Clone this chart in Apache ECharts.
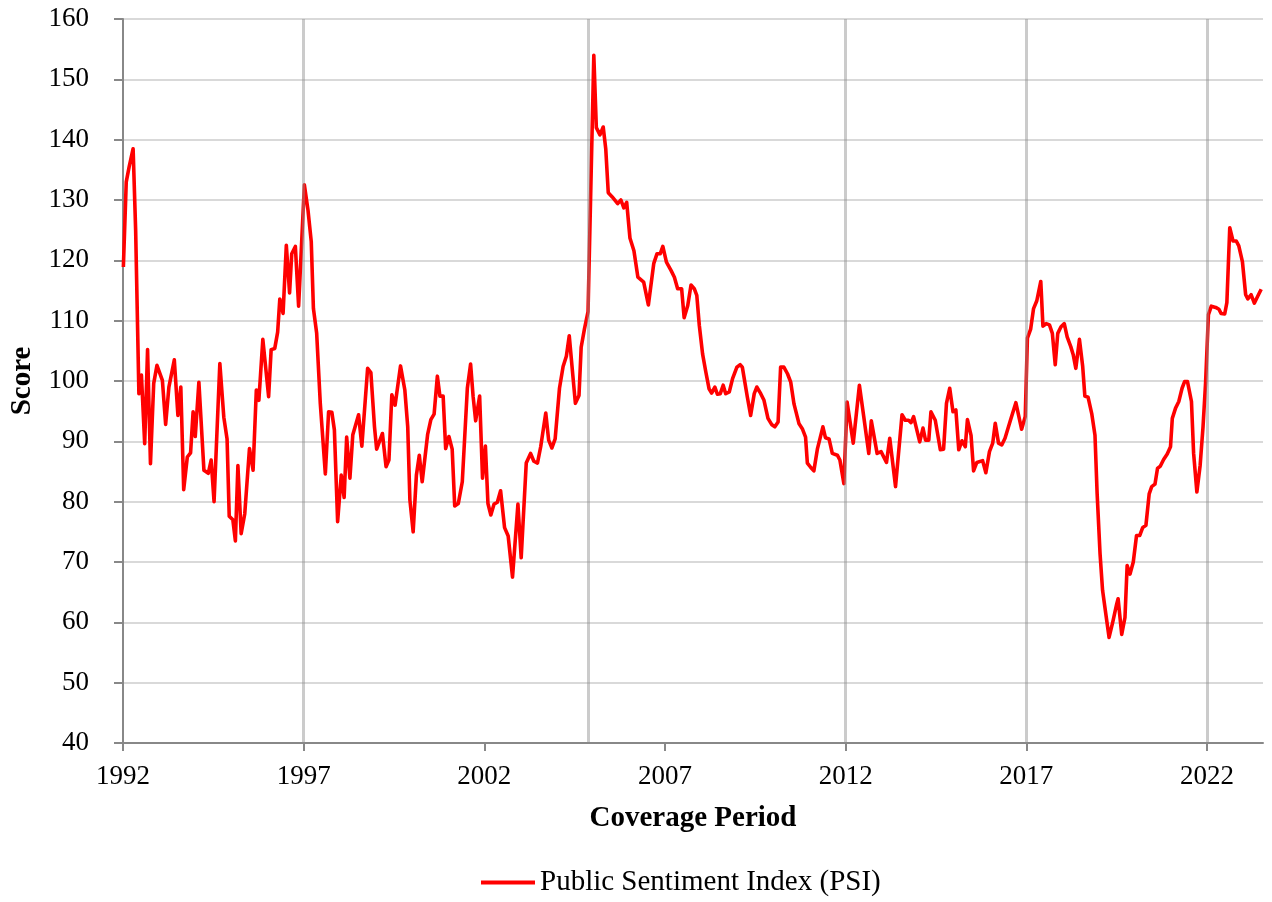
<!DOCTYPE html>
<html>
<head>
<meta charset="utf-8">
<script src="https://cdn.jsdelivr.net/npm/echarts@6/dist/echarts.min.js"></script>
<style>
  html, body { margin: 0; padding: 0; background: #ffffff; }
  #chart { width: 1272px; height: 902px; }
</style>
</head>
<body>
<div id="chart"></div>
<script>
// Coverage period (decimal years) and index values
const periods = [
  1992.01,1992.09,1992.17,1992.28,1992.35,1992.44,1992.51,1992.6,1992.68,1992.76,1992.85,1992.94,
  1993.09,1993.18,1993.27,1993.42,1993.52,1993.6,1993.68,1993.78,1993.87,1993.94,
  1994.0,1994.1,1994.24,1994.36,1994.44,1994.52,1994.68,1994.79,1994.88,1994.94,
  1995.04,1995.11,1995.18,1995.27,1995.37,1995.5,1995.6,1995.69,1995.76,1995.87,
  1996.03,1996.1,1996.2,1996.28,1996.34,1996.43,1996.52,1996.61,1996.67,1996.77,1996.86,
  1997.02,1997.12,1997.21,1997.27,1997.36,1997.46,1997.6,1997.69,1997.78,1997.85,1997.94,
  1998.04,1998.12,1998.19,1998.28,1998.36,1998.52,1998.61,1998.77,1998.86,1998.96,
  1999.02,1999.18,1999.28,1999.36,1999.44,1999.53,1999.68,1999.8,1999.88,1999.94,
  2000.03,2000.12,2000.2,2000.28,2000.43,2000.52,2000.61,2000.7,2000.77,2000.86,2000.93,
  2001.02,2001.11,2001.18,2001.28,2001.39,2001.53,2001.62,2001.69,2001.76,2001.87,2001.95,
  2002.03,2002.1,2002.18,2002.27,2002.36,2002.45,2002.56,2002.66,2002.78,2002.93,
  2003.02,2003.16,2003.28,2003.37,2003.47,2003.56,2003.7,2003.78,2003.87,2003.96,
  2004.08,2004.18,2004.27,2004.35,2004.45,2004.52,2004.62,2004.68,2004.77,2004.87,
  2005.03,2005.1,2005.2,2005.29,2005.36,2005.43,2005.54,2005.69,2005.78,2005.86,2005.94,
  2006.03,2006.14,2006.25,2006.41,2006.54,2006.69,2006.78,2006.87,2006.94,
  2007.04,2007.17,2007.26,2007.35,2007.46,2007.53,2007.63,2007.72,2007.81,2007.88,2007.95,
  2008.04,2008.13,2008.22,2008.29,2008.38,2008.45,2008.53,2008.61,2008.68,2008.78,2008.87,2008.99,
  2009.08,2009.14,2009.28,2009.37,2009.47,2009.54,2009.65,2009.74,2009.85,2009.95,
  2010.04,2010.13,2010.2,2010.29,2010.39,2010.48,2010.57,2010.71,2010.8,2010.89,2010.94,
  2011.03,2011.12,2011.22,2011.37,2011.44,2011.54,2011.63,2011.77,2011.84,2011.95,
  2012.04,2012.21,2012.38,2012.5,2012.64,2012.71,2012.87,2012.98,
  2013.13,2013.22,2013.38,2013.56,2013.65,2013.74,2013.81,2013.88,
  2014.05,2014.14,2014.21,2014.3,2014.36,2014.48,2014.62,2014.71,2014.79,2014.88,2014.97,
  2015.05,2015.13,2015.22,2015.31,2015.37,2015.47,2015.54,2015.63,2015.79,2015.88,2015.98,
  2016.07,2016.14,2016.23,2016.32,2016.41,2016.55,2016.71,2016.87,2016.97,
  2017.03,2017.12,2017.2,2017.29,2017.4,2017.46,2017.55,2017.64,2017.72,2017.8,2017.87,2017.96,
  2018.05,2018.13,2018.23,2018.3,2018.37,2018.47,2018.56,2018.62,2018.71,2018.81,2018.9,2018.96,
  2019.04,2019.11,2019.2,2019.29,2019.39,2019.5,2019.54,2019.64,2019.73,2019.79,2019.87,2019.96,
  2020.05,2020.14,2020.22,2020.31,2020.4,2020.47,2020.56,2020.63,2020.71,2020.8,2020.9,2020.99,
  2021.04,2021.13,2021.22,2021.31,2021.38,2021.46,2021.57,2021.63,2021.72,2021.81,2021.89,2021.96,
  2022.04,2022.12,2022.24,2022.33,2022.39,2022.49,2022.55,2022.63,2022.72,2022.81,2022.88,2022.98,
  2023.07,2023.13,2023.22,2023.31,2023.4,2023.5
];
const psiValues = [
  118.9,133,135.5,138.5,125,97.9,101,89.6,105.2,86.3,99.6,102.6,
  100.1,92.8,99,103.5,94.3,99,82,87.4,88.1,94.9,
  90.8,99.8,85.2,84.7,86.9,80,102.9,94,90.4,77.6,
  77,73.5,86,74.7,78,88.8,85.2,98.5,96.8,106.9,
  97.4,105.2,105.4,108.1,113.6,111.2,122.5,114.6,121.1,122.3,112.4,
  132.5,128.3,123.1,112,107.9,96.3,84.6,94.9,94.8,91.9,76.7,
  84.4,80.7,90.7,83.9,91.1,94.4,89.2,102.1,101.4,92.4,
  88.7,91.3,85.8,86.9,97.7,96,102.5,98.5,92.4,80.3,
  75,84.4,87.7,83.3,91.1,93.6,94.5,100.8,97.5,97.5,88.8,
  90.8,88.7,79.3,79.7,83.3,98.8,102.8,97.4,93.4,97.5,83.9,
  89.2,79.7,77.8,79.6,79.9,81.8,75.7,74.3,67.5,79.6,
  70.7,86.4,88,86.7,86.4,89.1,94.7,90.2,88.9,90.4,
  98.8,102.4,104.1,107.5,100.9,96.3,97.6,105.6,108.6,111.5,
  154,142,140.8,142.1,138.5,131.2,130.5,129.4,130,128.7,129.6,
  123.7,121.6,117.2,116.4,112.6,119.5,121.1,121.1,122.3,
  119.7,118.3,117.2,115.3,115.3,110.5,112.5,115.9,115.3,114.2,109.2,
  104.5,101.5,98.7,98,99,97.8,97.9,99.3,97.9,98.2,100.4,102.3,
  102.7,102.3,97.3,94.3,97.9,99,97.9,96.8,93.8,92.8,
  92.4,93.2,102.3,102.3,101.2,99.8,96.2,92.9,92.1,90.7,86.4,
  85.7,85.1,88.8,92.4,90.6,90.4,88,87.7,86.9,83,
  96.5,89.7,99.3,94.1,88,93.4,88,88.3,
  86.5,90.5,82.5,94.4,93.5,93.5,93.1,94.1,
  89.9,92.2,90.2,90.2,94.9,93.5,88.6,88.7,96.3,98.8,94.9,
  95.2,88.6,90.1,89.1,93.6,91,85.1,86.5,86.8,84.8,88.3,
  89.7,93,89.7,89.4,90.5,93.3,96.4,92,94.1,
  107.1,108.6,112,113.3,116.5,109.1,109.5,109.3,107.9,102.7,107.9,109,
  109.5,107.3,105.7,104.3,102.1,106.9,102.4,97.5,97.3,94.6,91,81.3,
  71.4,65.3,61.4,57.5,60,63,63.9,58,60.8,69.4,68,70,
  74.4,74.4,75.7,76.1,81.3,82.5,82.9,85.5,85.9,87,87.9,89.1,
  93.8,95.5,96.6,98.8,99.9,99.9,96.6,88,81.6,86,92.4,99.6,
  111,112.4,112.2,111.9,111.2,111.1,113,125.4,123.2,123.2,122.4,119.8,
  114.3,113.6,114.3,112.9,114,115.2
];
const xTickYears = [1992, 1997, 2002, 2007, 2012, 2017, 2022];
const markerYears = [1997, 2004.87, 2012, 2017, 2022];
const seriesName = 'Public Sentiment Index (PSI)';

const seriesData = periods.map((p, i) => [p, psiValues[i]]);
const FONT = '"Liberation Serif", "Times New Roman", serif';

const chart = echarts.init(document.getElementById('chart'), null, { renderer: 'canvas' });
chart.setOption({
  animation: false,
  backgroundColor: '#ffffff',
  textStyle: { fontFamily: FONT, color: '#000000' },
  grid: { left: 121, right: 9, top: 19, bottom: 159, containLabel: false },
  legend: {
    data: [{ name: seriesName, icon: 'rect' }],
    left: 476,
    top: 863,
    itemWidth: 54,
    itemHeight: 4,
    itemStyle: { color: '#ff0000' },
    textStyle: { fontFamily: FONT, fontSize: 29, color: '#000000' }
  },
  xAxis: {
    type: 'value',
    min: 1992,
    max: 2023.55,
    name: 'Coverage Period',
    nameLocation: 'middle',
    nameGap: 61,
    nameTextStyle: { fontFamily: FONT, fontSize: 29, fontWeight: 'bold', color: '#000000' },
    axisLine: { show: true, lineStyle: { color: '#888888', width: 2 } },
    axisTick: { show: true, length: 8, lineStyle: { color: '#888888', width: 2 }, customValues: xTickYears },
    axisLabel: {
      customValues: xTickYears,
      margin: 20,
      fontFamily: FONT,
      fontSize: 27,
      color: '#000000',
      formatter: v => String(Math.round(v))
    },
    splitLine: { show: false }
  },
  yAxis: {
    type: 'value',
    min: 40,
    max: 160,
    interval: 10,
    name: 'Score',
    nameLocation: 'middle',
    nameGap: 86,
    nameTextStyle: { fontFamily: FONT, fontSize: 29, fontWeight: 'bold', color: '#000000' },
    axisLine: { show: true, lineStyle: { color: '#888888', width: 2 } },
    axisTick: { show: true, length: 9, lineStyle: { color: '#888888', width: 2 } },
    axisLabel: { margin: 34, fontFamily: FONT, fontSize: 27, color: '#000000' },
    splitLine: { show: true, lineStyle: { color: '#d9d9d9', width: 2 } }
  },
  series: [{
    name: seriesName,
    type: 'line',
    data: seriesData,
    symbol: 'none',
    showSymbol: false,
    lineStyle: { color: '#ff0000', width: 3.6, join: 'round' },
    itemStyle: { color: '#ff0000' },
    z: 3,
    markLine: {
      silent: true,
      symbol: 'none',
      label: { show: false },
      lineStyle: { color: 'rgba(140,140,140,0.45)', width: 3, type: 'solid' },
      data: markerYears.map(y => ({ xAxis: y })),
      z: 4
    }
  }]
});
</script>
</body>
</html>
